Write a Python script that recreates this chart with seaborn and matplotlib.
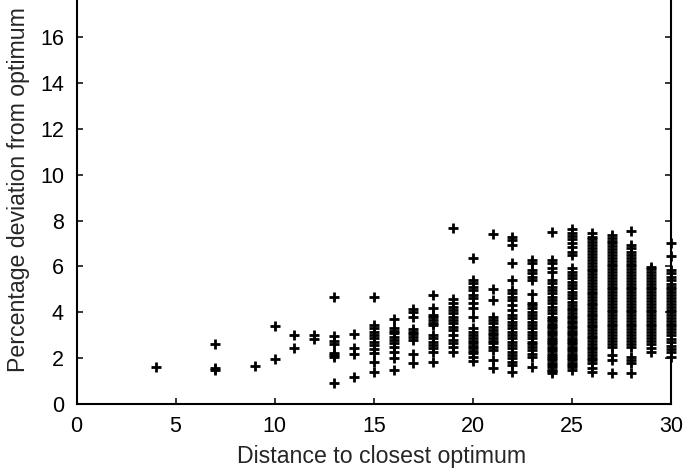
import matplotlib
matplotlib.use('Agg')
import matplotlib.pyplot as plt
import seaborn as sns
import pandas as pd

# deviation values (%) observed at each distance to closest optimum
dev_04 = [1.60]
dev_07 = [2.60, 1.55, 1.50]
dev_09 = [1.67]
dev_10 = [3.40, 1.96]
dev_11 = [3.02, 2.43]
dev_12 = [3.02, 2.84]
dev_13 = [4.68, 2.97, 2.75, 2.62, 2.24, 2.15, 2.06, 0.93]
dev_14 = [3.04, 2.46, 2.18, 1.17]
dev_15 = [4.65, 3.45, 3.30, 3.15, 3.01, 2.86, 2.72, 2.57, 2.39, 2.21, 1.82, 1.38]
dev_16 = [3.71, 3.30, 3.20, 3.08, 2.94, 2.79, 2.65, 2.50, 2.28, 1.99, 1.48]
dev_17 = [4.14, 4.03, 3.78, 3.26, 3.15, 3.05, 2.94, 2.79, 2.18, 1.77]
dev_18 = [4.75, 4.20, 3.88, 3.78, 3.66, 3.55, 3.45, 3.01, 2.86, 2.72, 2.57, 2.43,
          2.28, 1.84]
dev_19 = [7.66, 4.57, 4.42, 4.24, 4.10, 3.95, 3.81, 3.66, 3.52, 3.37, 3.23, 3.01,
          2.79, 2.65, 2.50, 2.28]
dev_20 = [6.35, 5.41, 5.26, 5.12, 4.97, 4.75, 4.61, 4.39, 4.17, 3.81, 3.30, 3.15,
          3.01, 2.86, 2.76, 2.65, 2.53, 2.43, 2.32, 2.21, 2.06, 1.89]
dev_21 = [7.41, 5.00, 4.54, 3.81, 3.66, 3.52, 3.37, 3.23, 3.11, 3.00, 2.88, 2.76,
          2.65, 2.50, 2.35, 1.92, 1.56]
dev_22 = [7.30, 7.15, 6.93, 6.14, 5.41, 4.97, 4.83, 4.68, 4.54, 4.32, 4.10, 3.88,
          3.74, 3.59, 3.45, 3.30, 3.15, 3.01, 2.86, 2.72, 2.57, 2.43, 2.28, 2.14,
          2.00, 1.85, 1.70, 1.41]
dev_23 = [6.28, 6.14, 5.84, 5.70, 5.55, 5.41, 4.80, 4.40, 4.32, 4.17, 4.03, 3.88,
          3.74, 3.59, 3.45, 3.30, 3.15, 3.01, 2.86, 2.72, 2.60, 2.48, 2.35, 2.20,
          2.06, 1.62]
dev_24 = [7.51, 6.28, 6.14, 5.92, 5.77, 5.41, 5.26, 5.12, 4.97, 4.83, 4.68, 4.54,
          4.39, 4.24, 4.10, 3.95, 3.81, 3.70, 3.60, 3.50, 3.40, 3.30, 3.20, 3.10,
          3.00, 2.90, 2.80, 2.70, 2.60, 2.50, 2.40, 2.30, 2.20, 2.10, 2.00, 1.90,
          1.80, 1.70, 1.60, 1.50, 1.42, 1.34]
dev_25 = [7.62, 7.47, 7.33, 7.18, 7.01, 6.86, 6.64, 6.50, 5.92, 5.77, 5.62, 5.48,
          5.33, 5.19, 5.04, 4.90, 4.75, 4.61, 4.46, 4.32, 4.20, 4.08, 3.96, 3.85,
          3.74, 3.63, 3.52, 3.41, 3.30, 3.20, 3.10, 3.00, 2.90, 2.80, 2.70, 2.60,
          2.50, 2.40, 2.30, 2.20, 2.10, 2.00, 1.90, 1.80, 1.70, 1.60, 1.48]
dev_26 = [7.44, 7.30, 7.18, 7.05, 6.92, 6.80, 6.66, 6.54, 6.40, 6.28, 6.15, 6.02,
          5.90, 5.78, 5.65, 5.52, 5.40, 5.28, 5.15, 5.02, 4.90, 4.78, 4.66, 4.54,
          4.42, 4.30, 4.18, 4.06, 3.94, 3.82, 3.70, 3.58, 3.46, 3.34, 3.22, 3.10,
          2.98, 2.86, 2.74, 2.62, 2.50, 2.38, 2.26, 2.14, 2.02, 1.92, 1.77, 1.56,
          1.40]
dev_27 = [7.37, 7.25, 7.12, 7.00, 6.88, 6.75, 6.62, 6.50, 6.38, 6.25, 6.12, 6.00,
          5.88, 5.75, 5.62, 5.50, 5.38, 5.25, 5.12, 5.00, 4.88, 4.75, 4.62, 4.50,
          4.38, 4.25, 4.12, 4.00, 3.88, 3.75, 3.62, 3.50, 3.38, 3.25, 3.12, 3.00,
          2.88, 2.75, 2.62, 2.50, 2.15, 1.92, 1.37]
dev_28 = [7.56, 6.93, 6.80, 6.62, 6.50, 6.38, 6.25, 6.12, 6.00, 5.88, 5.75, 5.62,
          5.50, 5.38, 5.25, 5.12, 5.00, 4.88, 4.75, 4.62, 4.50, 4.38, 4.25, 4.12,
          4.00, 3.88, 3.75, 3.62, 3.50, 3.38, 3.25, 3.12, 3.00, 2.88, 2.75, 2.62,
          2.50, 2.06, 1.90, 1.77, 1.37]
dev_29 = [5.99, 5.88, 5.75, 5.62, 5.50, 5.38, 5.25, 5.12, 5.00, 4.88, 4.75, 4.62,
          4.50, 4.38, 4.25, 4.12, 4.00, 3.88, 3.75, 3.62, 3.50, 3.38, 3.25, 3.12,
          3.00, 2.88, 2.75, 2.60, 2.45, 2.28]
dev_30 = [7.00, 6.45, 5.84, 5.70, 5.55, 5.40, 5.25, 5.12, 5.00, 4.88, 4.75, 4.62,
          4.50, 4.38, 4.25, 4.12, 4.00, 3.88, 3.75, 3.62, 3.50, 3.38, 3.25, 3.12,
          3.00, 2.85, 2.70, 2.55, 2.40, 2.25, 2.06]

columns = {
    4: dev_04, 7: dev_07, 9: dev_09, 10: dev_10, 11: dev_11, 12: dev_12,
    13: dev_13, 14: dev_14, 15: dev_15, 16: dev_16, 17: dev_17, 18: dev_18,
    19: dev_19, 20: dev_20, 21: dev_21, 22: dev_22, 23: dev_23, 24: dev_24,
    25: dev_25, 26: dev_26, 27: dev_27, 28: dev_28, 29: dev_29, 30: dev_30,
}
rows = [(d, v) for d, vals in columns.items() for v in vals]
df = pd.DataFrame(rows, columns=['distance', 'deviation'])

x_ticks = [0, 5, 10, 15, 20, 25, 30]
y_ticks = [0, 2, 4, 6, 8, 10, 12, 14, 16, 18, 20]

sns.set_style('ticks')
plt.rcParams['font.family'] = ['Liberation Sans', 'DejaVu Sans']

W, H = 688, 471
fig = plt.figure(figsize=(W / 100, H / 100), dpi=100)
# axes extends above the figure (the reference is cropped at the top)
ax = fig.add_axes([76.5 / W, 67 / H, 594.5 / W, 458.6 / H])

sns.scatterplot(data=df, x='distance', y='deviation', marker='+', color='black',
                s=42, linewidth=2.0, ax=ax, clip_on=False, legend=False, zorder=3)

ax.set_xlim(0, 30)
ax.set_ylim(0, 20)
ax.set_xticks(x_ticks)
ax.set_yticks(y_ticks)
ax.tick_params(direction='in', length=4.3, width=1.1, top=True, right=True,
               labelsize=15.5, pad=9, colors='black')
for sp in ax.spines.values():
    sp.set_visible(True)
    sp.set_linewidth(1.5)
    sp.set_color('black')

ax.set_xlabel('Distance to closest optimum', fontsize=16.7)
ax.set_ylabel('Percentage deviation from optimum', fontsize=16.7)
ax.xaxis.set_label_coords(381.5 / W, (H - 445) / H, transform=fig.transFigure)
ax.yaxis.set_label_coords(30 / W, (H - 189.5) / H, transform=fig.transFigure)

fig.savefig('out.png', dpi=100)
